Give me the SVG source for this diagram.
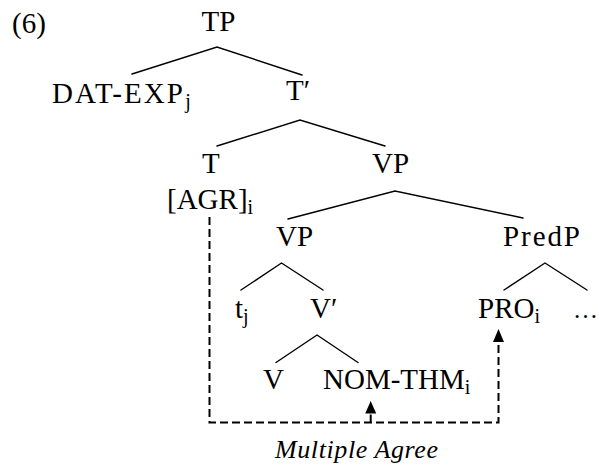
<svg xmlns="http://www.w3.org/2000/svg" width="599" height="468" viewBox="0 0 599 468">
  <style>
    text { font-family: "Liberation Serif", "Times New Roman", serif; font-size: 29px; fill: #000; }
    .sub { font-size: 20px; }
    .it { font-style: italic; font-size: 26px; }
    .branch { stroke: #000; stroke-width: 1.4; fill: none; stroke-linecap: round; }
    .agree { stroke: #000; stroke-width: 2; fill: none; stroke-dasharray: 8 4; }
    .head { fill: #000; }
  </style>

  <text x="12" y="33">(6)</text>

  <!-- tree branches and the agreement paths -->
  <g id="connectors">
    <path class="branch" d="M132,74 L217,47 L302,75"/>
    <path class="branch" d="M217,146 L300,120 L385,146"/>
    <path class="branch" d="M288,219 L395,191 L523,218"/>
    <path class="branch" d="M241,290 L281.5,263 L323,290"/>
    <path class="branch" d="M504,290 L545,263 L587,290"/>
    <path class="branch" d="M276,362.5 L317,335 L358,362.5"/>
    <path class="agree" d="M209.5,217 L209.5,422.5 L498.5,422.5 L498.5,342"/>
    <path class="agree" d="M370.7,422.5 L370.7,413" stroke-dasharray="none"/>
    <path class="head" d="M498.5,329 L504,342 L493,342 Z"/>
    <path class="head" d="M370.7,401 L376.2,413.5 L365.2,413.5 Z"/>
  </g>

  <g id="node-tp"><text x="201.5" y="31">TP</text></g>
  <g id="node-datexp"><text x="52" y="103"><tspan textLength="131">DAT-EXP</tspan><tspan class="sub" dy="5">j</tspan></text></g>
  <g id="node-tbar"><text x="286" y="100">T′</text></g>
  <g id="node-t"><text x="202" y="173">T</text></g>
  <g id="node-agr"><text x="167" y="209">[AGR]<tspan class="sub" dy="5">i</tspan></text></g>
  <g id="node-vp1"><text x="372" y="173">VP</text></g>
  <g id="node-vp2"><text x="276" y="245.5">VP</text></g>
  <g id="node-predp"><text x="503" y="245.5" textLength="77">PredP</text></g>
  <g id="node-tj"><text x="235" y="318">t<tspan class="sub" dy="5">j</tspan></text></g>
  <g id="node-vbar"><text x="310" y="318">V′</text></g>
  <g id="node-pro"><text x="478" y="318">PRO<tspan class="sub" dy="5">i</tspan></text></g>
  <g id="node-dots"><text x="573" y="318" style="font-size:25px">…</text></g>
  <g id="node-v"><text x="263" y="389">V</text></g>
  <g id="node-nomthm"><text x="323" y="389">NOM-THM<tspan class="sub" dy="5">i</tspan></text></g>
  <g id="label-agree"><text class="it" x="275" y="458" textLength="163">Multiple Agree</text></g>
</svg>
